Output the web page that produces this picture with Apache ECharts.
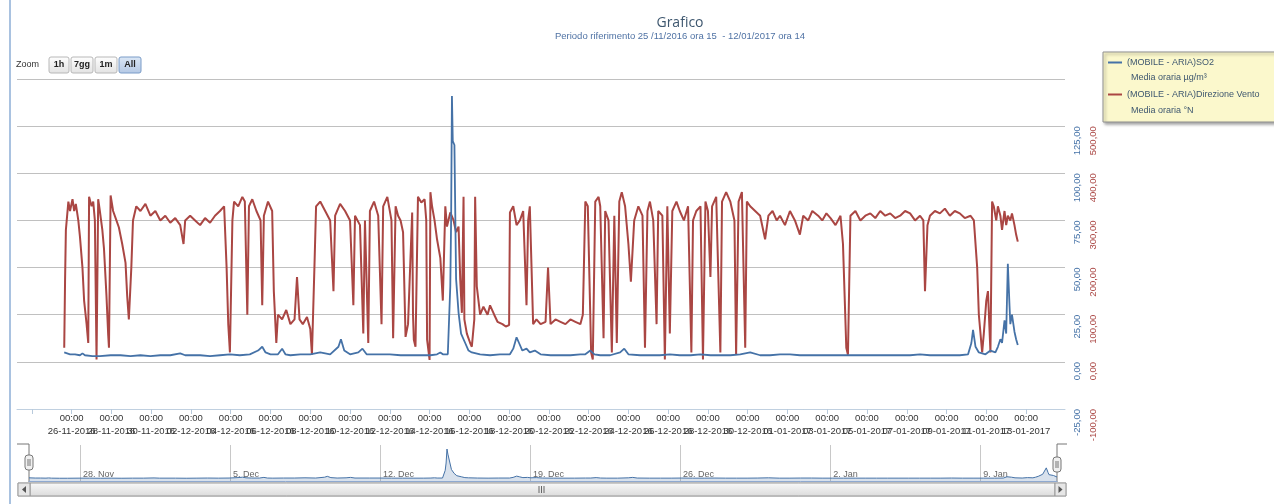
<!DOCTYPE html>
<html><head><meta charset="utf-8">
<script src="https://cdn.jsdelivr.net/npm/echarts@6/dist/echarts.min.js"></script>
<style>html,body{margin:0;padding:0;background:#fff}#c{width:1274px;height:504px}</style>
</head><body><div id="c"></div>
<script>
const titleText = 'Grafico';
const subtitleText = 'Periodo riferimento 25 /11/2016 ora 15  - 12/01/2017 ora 14';
const seriesNames = ['(MOBILE - ARIA)SO2', '(MOBILE - ARIA)Direzione Vento'];
const seriesUnits = ['Media oraria µg/m³', 'Media oraria °N'];
const zoomLabel = 'Zoom';
const zoomButtons = ['1h', '7gg', '1m', 'All'];
const navMonths = ['Jan','Feb','Mar','Apr','May','Jun','Jul','Aug','Sep','Oct','Nov','Dec'];

// Hours after the first sample (25/11/2016 15:00)
const so2Hours = [0,2,7,13,19,22,25,34,43,56,68,80,92,104,116,128,140,146,164,176,188,200,212,224,234,239,243,249,258,263,267,273,285,297,309,321,331,334,338,345,355,360,365,381,393,406,418,430,442,450,454,457,463,466,467,468,469,471,473,476,479,484,488,492,502,514,526,538,542,546,549,553,558,562,568,575,587,599,611,623,629,635,640,647,659,671,676,681,695,707,719,731,743,756,768,780,792,804,816,828,840,852,864,876,888,900,912,925,937,949,961,973,985,997,1009,1021,1033,1045,1057,1069,1081,1091,1095,1097,1100,1104,1112,1118,1124,1127,1130,1132,1135,1137,1139,1141,1142,1144,1147,1149,1151];
const so2Values = [5,4.5,4,4,3.5,4.5,3.5,3,3,3.5,3.5,3,3.5,3,3.5,3.5,4.5,3.5,3.5,3,3.5,4,3.5,4,6,8,5,4,4,7,4,3.5,4,4,5,4,8,12,6,4,5,7,4,4,4,3.5,3.5,3.5,3.5,4,5,4,4,40,75,141,117,115,44,26,15,10,6,5,4,3.5,4,4,7,13,10,6,7,5,6,4,3.5,3.5,3.5,4,4,6,4,3.5,3.5,5,7,4,3.5,3.5,3.5,4,3.5,3.5,4,3.5,3.5,3.5,4,5,3.5,3.5,4,4,3.5,3.5,3.5,3.5,3.5,3.5,3.5,3.5,3.5,3.5,3.5,3.5,4,3.5,3.5,3.5,3.5,4,10,17,8,5,4,6,5,8,12,10,22,15,52,30,20,25,16,12,9];

const windHours = [0,1,2,5,7,10,12,14,17,19,22,24,27,29,30,33,35,37,39,41,43,46,48,51,53,54,56,59,63,66,70,74,76,78,81,83,87,92,98,104,110,116,122,128,134,140,144,146,152,158,164,170,176,182,188,193,196,198,200,203,205,210,215,218,221,223,227,232,237,239,241,246,251,253,256,258,263,268,273,278,281,284,288,293,297,299,302,304,309,315,321,325,327,333,339,345,349,351,357,361,363,367,369,374,379,383,385,390,395,397,400,403,406,409,412,415,420,421,422,424,427,431,435,437,438,441,442,444,447,450,454,457,460,462,466,470,473,476,478,480,482,483,486,490,492,495,496,498,502,506,511,514,519,523,529,533,537,538,542,546,550,554,558,560,562,566,570,575,581,584,587,593,599,605,611,617,623,626,629,632,636,638,641,645,647,651,653,657,661,664,667,670,673,677,681,684,688,693,698,701,704,707,711,715,717,722,725,728,731,734,739,743,748,753,757,759,763,768,771,774,777,780,782,787,792,794,799,804,809,811,814,818,822,824,828,834,840,846,850,855,860,864,870,876,882,888,892,898,903,910,915,920,925,931,937,940,944,946,949,955,961,967,973,979,985,991,997,1003,1009,1015,1021,1027,1033,1037,1039,1042,1045,1051,1057,1063,1069,1075,1081,1087,1094,1098,1102,1104,1108,1110,1113,1115,1118,1120,1122,1125,1127,1130,1132,1135,1137,1139,1142,1144,1147,1149,1151];
const windValues = [30,170,280,340,320,345,320,335,300,265,200,130,80,40,350,330,340,300,5,345,320,280,240,140,60,30,353,320,300,285,250,210,140,90,200,300,330,320,335,310,320,300,310,295,305,290,250,300,310,300,290,305,295,310,320,330,200,80,20,300,340,330,350,340,100,330,345,320,300,120,310,340,320,150,40,100,90,110,80,90,180,90,80,95,70,15,200,330,340,320,300,150,310,335,320,300,120,310,290,60,300,40,320,340,310,80,330,350,300,50,330,310,300,275,53,80,317,100,47,32,350,338,345,300,47,4,360,330,300,260,220,130,330,287,317,300,275,287,175,104,350,90,60,40,32,90,350,160,100,117,100,120,100,85,80,75,78,317,330,290,300,320,120,300,330,80,90,80,85,200,80,90,85,80,90,85,80,100,340,330,20,5,340,350,330,50,320,300,20,310,40,340,360,330,250,170,300,330,310,30,320,340,300,80,320,310,5,330,60,320,340,320,300,330,20,300,320,330,5,340,320,180,330,350,20,340,360,340,300,15,340,360,30,340,330,320,310,260,310,320,300,310,290,320,300,270,310,300,320,310,300,315,305,290,310,250,30,15,310,320,300,310,315,305,320,310,315,305,310,320,315,300,310,300,150,290,310,320,315,325,310,320,315,305,310,300,200,100,20,60,130,150,20,340,330,300,330,310,280,320,290,310,300,315,290,270,255];

const so2Ticks = { min: -25, max: 150, step: 25 };
const windTicks = { min: -100, max: 600, step: 100 };

// Axis unit: hours since 14/11/2016 00:00 (UTC clock used for labels)
const ORIGIN = Date.UTC(2016, 10, 14, 0, 0);
const FIRST = 279; // 25/11/2016 15:00
// main axis ticks every 2 days (24/11 .. 13/01), labels from 26/11
const mainTickHours = [240,288,336,384,432,480,528,576,624,672,720,768,816,864,912,960,1008,1056,1104,1152,1200,1248,1296,1344,1392,1440];
const mainLabelHours = mainTickHours.slice(1);
// labels are split over two overlaid axes so none of them is dropped
const mainLabelsA = mainLabelHours.filter((h, i) => i % 2 === 0);
const mainLabelsB = mainLabelHours.filter((h, i) => i % 2 === 1);
// navigator ticks weekly: 28 Nov .. 9 Jan
const navTickHours = [336,504,672,840,1008,1176,1344];

const pad = n => (n < 10 ? '0' : '') + n;
const so2Data = so2Hours.map((h, i) => [FIRST + h, so2Values[i]]);
const windData = windHours.map((h, i) => [FIRST + h, windValues[i]]);
const LAST = FIRST + Math.max(...so2Hours);
const X_MIN = 222, X_MAX = 1487;

function mainLabel(v) {
  const d = new Date(ORIGIN + v * 3600000);
  return pad(d.getUTCHours()) + ':' + pad(d.getUTCMinutes()) + '\n' +
    pad(d.getUTCDate()) + '-' + pad(d.getUTCMonth() + 1) + '-' + d.getUTCFullYear();
}
function navLabel(v) {
  const d = new Date(ORIGIN + v * 3600000);
  return d.getUTCDate() + '. ' + navMonths[d.getUTCMonth()];
}
const num = v => v.toFixed(2).replace('.', ',');

const FONT = 'Liberation Sans';
const graphics = [];
graphics.push({ type: 'line', shape: { x1: 10, y1: 0, x2: 10, y2: 504 }, style: { stroke: '#A9C2E0', lineWidth: 2 }, silent: true });
graphics.push({ type: 'text', x: 16, y: 65, style: { text: zoomLabel, font: '9px ' + FONT, fill: '#333', textVerticalAlign: 'middle' } });
const btnBox = [[49, 20], [71, 22], [95, 22], [119, 22]];
zoomButtons.forEach((b, i) => {
  const sel = i === zoomButtons.length - 1;
  graphics.push({ type: 'rect', shape: { x: btnBox[i][0], y: 57, width: btnBox[i][1], height: 16, r: 2 },
    style: { fill: sel ? new echarts.graphic.LinearGradient(0, 0, 0, 1, [{ offset: 0, color: '#DCE8F6' }, { offset: 1, color: '#B4C8E4' }]) :
      new echarts.graphic.LinearGradient(0, 0, 0, 1, [{ offset: 0, color: '#FFFFFF' }, { offset: 1, color: '#E2E2E2' }]),
      stroke: sel ? '#7A9CC8' : '#B8B8B8', lineWidth: 1 } });
  graphics.push({ type: 'text', x: btnBox[i][0] + btnBox[i][1] / 2, y: 65,
    style: { text: b, font: 'bold 9px ' + FONT, fill: '#222', textAlign: 'center', textVerticalAlign: 'middle' } });
});
// legend second lines
graphics.push({ type: 'text', x: 1131, y: 78, z: 20, style: { text: seriesUnits[0], font: '9px ' + FONT, fill: '#3E576F', textVerticalAlign: 'middle' } });
graphics.push({ type: 'text', x: 1131, y: 111, z: 20, style: { text: seriesUnits[1], font: '9px ' + FONT, fill: '#3E576F', textVerticalAlign: 'middle' } });
// navigator outline & handles
graphics.push({ type: 'polyline', shape: { points: [[17, 444], [29, 444], [29, 482]] }, style: { stroke: '#777', lineWidth: 1, fill: null } });
graphics.push({ type: 'polyline', shape: { points: [[1057, 482], [1057, 444], [1067, 444]] }, style: { stroke: '#777', lineWidth: 1, fill: null } });
[[25, 455], [1053, 457]].forEach(p => {
  graphics.push({ type: 'rect', shape: { x: p[0], y: p[1], width: 8, height: 15, r: 3 }, style: { fill: '#F0F0F0', stroke: '#777', lineWidth: 1 } });
  graphics.push({ type: 'line', shape: { x1: p[0] + 3, y1: p[1] + 4, x2: p[0] + 3, y2: p[1] + 11 }, style: { stroke: '#777', lineWidth: 1 } });
  graphics.push({ type: 'line', shape: { x1: p[0] + 5, y1: p[1] + 4, x2: p[0] + 5, y2: p[1] + 11 }, style: { stroke: '#777', lineWidth: 1 } });
});
// scrollbar
graphics.push({ type: 'rect', shape: { x: 18, y: 483, width: 1048, height: 13 }, style: { fill: '#EEEEEE', stroke: '#BBBBBB' } });
graphics.push({ type: 'rect', shape: { x: 30, y: 483, width: 1025, height: 13 },
  style: { fill: new echarts.graphic.LinearGradient(0, 0, 0, 1, [{ offset: 0, color: '#FAFAFA' }, { offset: 1, color: '#DADADA' }]), stroke: '#999' } });
graphics.push({ type: 'rect', shape: { x: 18, y: 483, width: 12, height: 13 }, style: { fill: '#E6E6E6', stroke: '#999' } });
graphics.push({ type: 'rect', shape: { x: 1055, y: 483, width: 11, height: 13 }, style: { fill: '#E6E6E6', stroke: '#999' } });
graphics.push({ type: 'polygon', shape: { points: [[26, 486], [22, 489.5], [26, 493]] }, style: { fill: '#555' } });
graphics.push({ type: 'polygon', shape: { points: [[1058.5, 486], [1062.5, 489.5], [1058.5, 493]] }, style: { fill: '#555' } });
[539, 541.5, 544].forEach(x => graphics.push({ type: 'line', shape: { x1: x, y1: 486, x2: x, y2: 493 }, style: { stroke: '#666', lineWidth: 1 } }));

const mainLabelStyle = { formatter: mainLabel, fontSize: 9.5, lineHeight: 13, color: '#333', margin: 3, fontFamily: FONT,
  hideOverlap: false, showMinLabel: true, showMaxLabel: true };

const chart = echarts.init(document.getElementById('c'), null, { renderer: 'canvas' });
chart.setOption({
  animation: false,
  backgroundColor: '#fff',
  title: {
    text: titleText, subtext: subtitleText, left: 675, top: 11, textAlign: 'center', itemGap: 1,
    textStyle: { color: '#3E576F', fontSize: 14, fontWeight: 'normal', fontFamily: 'Open Sans' },
    subtextStyle: { color: '#4F72A4', fontSize: 9.5, fontFamily: FONT }
  },
  legend: {
    data: [seriesNames[0], seriesNames[1]], orient: 'vertical', left: 1103, top: 52,
    icon: 'rect', itemWidth: 14, itemHeight: 2, itemGap: 23, selectedMode: false,
    padding: [6, 80, 23, 5], backgroundColor: '#FBF8CC', borderColor: '#909090', borderWidth: 1,
    shadowColor: 'rgba(0,0,0,0.35)', shadowBlur: 3, shadowOffsetX: 2, shadowOffsetY: 2,
    textStyle: { fontSize: 9, color: '#3E576F', fontFamily: FONT }
  },
  grid: [
    { left: 17, right: 209, top: 79, bottom: 95 },
    { left: 29, right: 217, top: 445, bottom: 23 }
  ],
  xAxis: [
    { type: 'value', gridIndex: 0, min: X_MIN, max: X_MAX,
      axisLine: { onZero: false, lineStyle: { color: '#C0D0E0' } },
      axisTick: { length: 5, lineStyle: { color: '#B8CADC' }, customValues: mainTickHours },
      splitLine: { show: false },
      axisLabel: Object.assign({ customValues: mainLabelsA }, mainLabelStyle) },
    { type: 'value', gridIndex: 1, min: FIRST, max: LAST,
      axisLine: { onZero: false, lineStyle: { color: '#8FA9D0' } },
      axisTick: { show: true, length: 0, customValues: navTickHours },
      splitLine: { show: true, lineStyle: { color: '#C8C8C8' } },
      axisLabel: { customValues: navTickHours, formatter: navLabel, inside: true, margin: 2, align: 'left', verticalAlign: 'bottom',
        padding: [0, 0, 0, 3], fontSize: 9, color: '#666', fontFamily: FONT, showMinLabel: true, showMaxLabel: true } },
    { type: 'value', gridIndex: 0, min: X_MIN, max: X_MAX, position: 'bottom',
      axisLine: { show: false, onZero: false }, axisTick: { show: false }, splitLine: { show: false },
      axisLabel: Object.assign({ customValues: mainLabelsB }, mainLabelStyle) }
  ],
  yAxis: [
    { type: 'value', gridIndex: 0, position: 'right', min: so2Ticks.min, max: so2Ticks.max, interval: so2Ticks.step,
      axisLine: { show: false }, axisTick: { show: false },
      splitLine: { lineStyle: { color: '#C0C0C0' } },
      axisLabel: { formatter: num, rotate: 90, align: 'right', verticalAlign: 'top', margin: 7,
        color: '#4572A7', fontSize: 9.5, fontFamily: FONT, showMaxLabel: false, showMinLabel: true } },
    { type: 'value', gridIndex: 0, position: 'right', offset: 16, min: windTicks.min, max: windTicks.max, interval: windTicks.step,
      axisLine: { show: false }, axisTick: { show: false }, splitLine: { show: false },
      axisLabel: { formatter: num, rotate: 90, align: 'right', verticalAlign: 'top', margin: 7,
        color: '#AA4643', fontSize: 9.5, fontFamily: FONT, showMaxLabel: false, showMinLabel: true } },
    { type: 'value', gridIndex: 1, min: -10, max: 160, show: false }
  ],
  series: [
    { name: seriesNames[1], type: 'line', xAxisIndex: 0, yAxisIndex: 1, data: windData, symbol: 'none',
      lineStyle: { color: '#AA4643', width: 2 }, itemStyle: { color: '#AA4643' }, z: 2 },
    { name: seriesNames[0], type: 'line', xAxisIndex: 0, yAxisIndex: 0, data: so2Data, symbol: 'none',
      lineStyle: { color: '#4572A7', width: 1.8 }, itemStyle: { color: '#4572A7' }, z: 3 },
    { name: 'nav', type: 'line', xAxisIndex: 1, yAxisIndex: 2, data: so2Data, symbol: 'none', silent: true,
      lineStyle: { color: '#4572A7', width: 1 }, itemStyle: { color: '#4572A7' },
      areaStyle: { color: 'rgba(69,114,167,0.3)', origin: 'start' } }
  ],
  graphic: graphics
});
</script></body></html>
